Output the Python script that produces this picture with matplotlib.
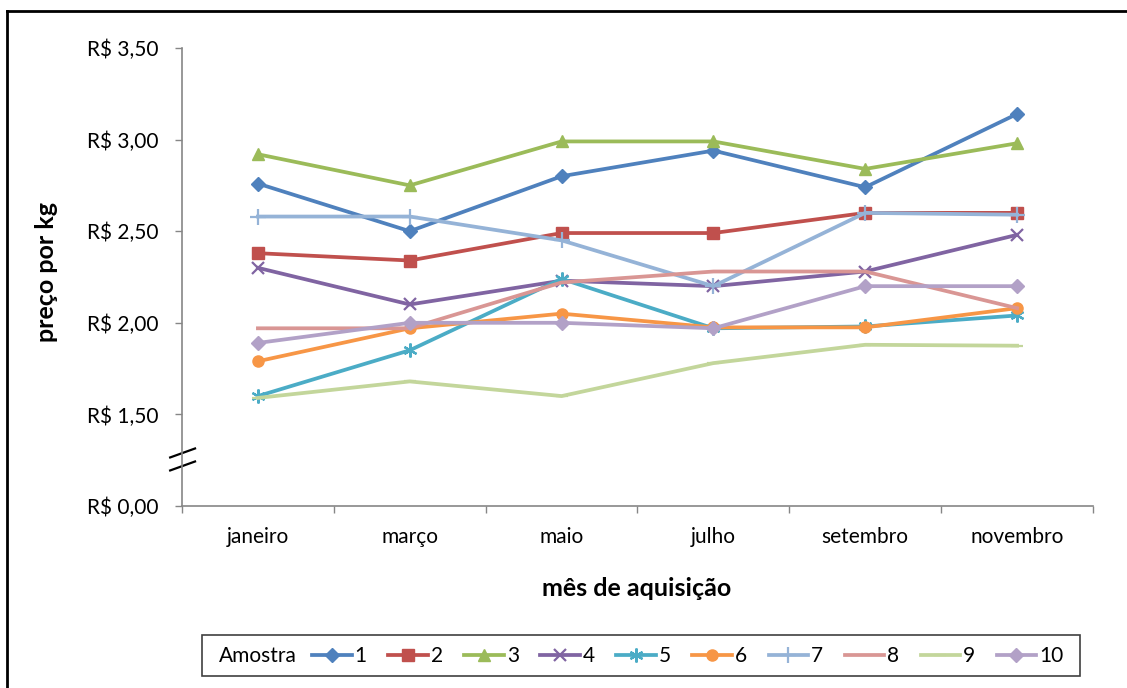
import matplotlib
matplotlib.use("Agg")
import matplotlib.pyplot as plt
from matplotlib.lines import Line2D
from matplotlib.patches import Rectangle
import matplotlib.transforms as mtransforms

plt.rcParams["font.family"] = ["Lato", "DejaVu Sans"]

# --------------------------------------------------
# Data (preço por kg, R$)
# --------------------------------------------------
meses = ["janeiro", "março", "maio", "julho", "setembro", "novembro"]

amostra_1 = [2.76, 2.50, 2.80, 2.94, 2.74, 3.14]
amostra_2 = [2.38, 2.34, 2.49, 2.49, 2.60, 2.60]
amostra_3 = [2.92, 2.75, 2.99, 2.99, 2.84, 2.98]
amostra_4 = [2.30, 2.10, 2.23, 2.20, 2.28, 2.48]
amostra_5 = [1.60, 1.85, 2.24, 1.97, 1.98, 2.04]
amostra_6 = [1.79, 1.97, 2.05, 1.975, 1.975, 2.08]
amostra_7 = [2.58, 2.58, 2.45, 2.20, 2.60, 2.59]
amostra_8 = [1.97, 1.97, 2.22, 2.28, 2.28, 2.08]
amostra_9 = [1.59, 1.68, 1.60, 1.78, 1.88, 1.875]
amostra_10 = [1.89, 2.00, 2.00, 1.97, 2.20, 2.20]

series = [amostra_1, amostra_2, amostra_3, amostra_4, amostra_5,
          amostra_6, amostra_7, amostra_8, amostra_9, amostra_10]
labels = ["1", "2", "3", "4", "5", "6", "7", "8", "9", "10"]

# y axis has a break: the bottom tick stands for R$ 0,00
y_ticks = [1.0, 1.5, 2.0, 2.5, 3.0, 3.5]
y_ticklabels = ["R$ 0,00", "R$ 1,50", "R$ 2,00", "R$ 2,50", "R$ 3,00", "R$ 3,50"]

# Excel 2007 style
colors = ["#4F81BD", "#C0504D", "#9BBB59", "#8064A2", "#4BACC6",
          "#F79646", "#95B3D7", "#D99694", "#C3D69B", "#B2A1C7"]
markers = ["D", "s", "^", "x", (6, 2, 0), "o", "+", "None", "_", "D"]
msizes = [7, 8, 8, 9, 10, 8, 11, 0, 8, 7]

# --------------------------------------------------
# Figure
# --------------------------------------------------
W, H = 1127, 688
fig = plt.figure(figsize=(W / 100, H / 100), dpi=100)
ax = fig.add_axes([182 / W, 1 - 506 / H, (1093 - 182) / W, (506 - 48) / H])

x = list(range(len(meses)))
handles = []
for vals, lab, c, m, ms in zip(series, labels, colors, markers, msizes):
    mew = 1.6 if m in ("x", "+", "_", (6, 2, 0)) else 1.0
    ln, = ax.plot(x, vals, color=c, lw=2.7, marker=m, ms=ms,
                  markeredgecolor=c, markerfacecolor=c, markeredgewidth=mew,
                  label=lab, clip_on=False)
    handles.append(ln)

ax.set_xlim(-0.5, len(meses) - 0.5)
ax.set_ylim(1.0, 3.5)

ax.set_yticks(y_ticks)
ax.set_yticklabels(y_ticklabels)
ax.set_xticks(x)
ax.set_xticklabels(meses)
ax.set_xticks([i - 0.5 for i in range(len(meses) + 1)], minor=True)

ax.tick_params(axis="y", length=5, width=1, color="#868686", pad=12,
               labelsize=15, labelcolor="#000000")
ax.tick_params(axis="x", which="major", length=0, pad=15, labelsize=15)
ax.tick_params(axis="x", which="minor", length=5, width=1, color="#868686")

for s in ["top", "right"]:
    ax.spines[s].set_visible(False)
for s in ["left", "bottom"]:
    ax.spines[s].set_color("#868686")
    ax.spines[s].set_linewidth(1.2)

# axis break marks
trans = mtransforms.blended_transform_factory(ax.transAxes, ax.transData)
ax.plot([-0.013, 0.0143], [1.265, 1.314], color="black", lw=1.6,
        transform=trans, clip_on=False)
ax.plot([-0.013, 0.0143], [1.194, 1.243], color="black", lw=1.6,
        transform=trans, clip_on=False)

# axis titles
fig.text(637 / W, 1 - 588 / H, "mês de aquisição", ha="center", va="center",
         fontsize=18, fontweight="bold")
fig.text(47 / W, 1 - 272 / H, "preço por kg", ha="center", va="center",
         rotation=90, fontsize=18, fontweight="bold")

# legend box
fig.patches.append(Rectangle((202 / W, 1 - 676 / H), (1080 - 202) / W,
                             (676 - 635) / H, transform=fig.transFigure,
                             fill=False, edgecolor="#404040", lw=1.2))
fig.text(219 / W, 1 - 656 / H, "Amostra", ha="left", va="center", fontsize=15)
fig.legend(handles=handles, loc="center left",
           bbox_to_anchor=(312 / W, 1 - 656 / H), ncol=10, frameon=False,
           fontsize=15, handlelength=1.9, handletextpad=0.15,
           columnspacing=1.02, borderpad=0, borderaxespad=0)

# outer frame
fig.add_artist(Line2D([7 / W, 1], [1 - 11 / H, 1 - 11 / H], color="black",
                      lw=2, transform=fig.transFigure))
fig.add_artist(Line2D([7 / W, 7 / W], [0, 1 - 11 / H], color="black",
                      lw=2, transform=fig.transFigure))

fig.savefig("out.png", dpi=100)
plt.close(fig)
